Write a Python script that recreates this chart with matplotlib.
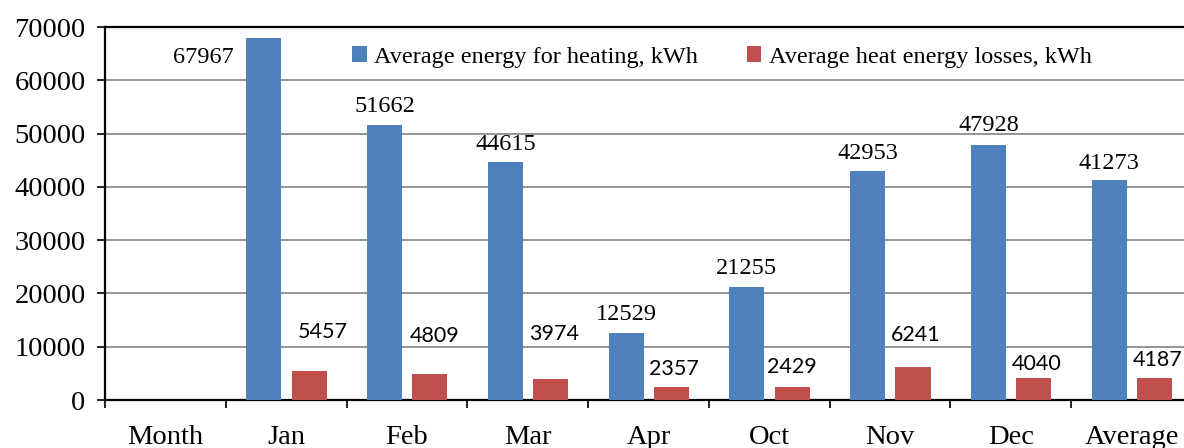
import numpy as np
import matplotlib
matplotlib.use('Agg')
import matplotlib.pyplot as plt

categories = ['Month', 'Jan', 'Feb', 'Mar', 'Apr', 'Oct', 'Nov', 'Dec', 'Average']
months = ['Jan', 'Feb', 'Mar', 'Apr', 'Oct', 'Nov', 'Dec', 'Average']
heating = [67967, 51662, 44615, 12529, 21255, 42953, 47928, 41273]
losses = [5457, 4809, 3974, 2357, 2429, 6241, 4040, 4187]

blue = '#4F81BD'
red = '#C0504D'
serif = 'Liberation Serif'

fig = plt.figure(figsize=(11.84, 4.48), dpi=100)
ax = fig.add_axes([105 / 1184, 48 / 448, 1087 / 1184, 373 / 448])

x = np.array([categories.index(m) for m in months])
w = 0.29
b1 = ax.bar(x - 0.185, heating, w, color=blue, label='Average energy for heating, kWh', zorder=3)
b2 = ax.bar(x + 0.19, losses, w, color=red, label='Average heat energy losses, kWh', zorder=3)

# label offsets in pixels (dx, dy of text centre from bar top)
blue_off = [(-60, -20), (0, 18), (0, 18), (0, 19), (0, 18), (0, 18), (0, 19), (0, 17)]
red_off = [(14, 39), (5, 38), (3, 45), (2, 18), (0, 20), (3, 32), (3, 14), (3, 18)]

for bar, v, (dx, dy) in zip(b1, heating, blue_off):
    ax.annotate(str(v), (bar.get_x() + bar.get_width() / 2, v), xytext=(dx, dy),
                textcoords='offset pixels', ha='center', va='center',
                fontsize=17.5, family=serif, zorder=5)
for bar, v, (dx, dy) in zip(b2, losses, red_off):
    ax.annotate(str(v), (bar.get_x() + bar.get_width() / 2, v), xytext=(dx, dy),
                textcoords='offset pixels', ha='center', va='center',
                fontsize=15.5, family='Lato', zorder=5)

ax.set_xlim(-0.5, 8.5)
ax.set_ylim(0, 70000)
ax.set_yticks(np.arange(0, 70001, 10000))
ax.set_xticks(np.arange(len(categories)))
ax.set_xticklabels(categories)
ax.set_xticks(np.arange(len(categories) + 1) - 0.5, minor=True)
ax.tick_params(axis='x', which='major', length=0, pad=18)
ax.tick_params(axis='x', which='minor', length=6, width=1.2, direction='out')
ax.tick_params(axis='y', length=6, width=1.2, direction='out', pad=8)
for lab in ax.get_xticklabels() + ax.get_yticklabels():
    lab.set_family(serif)
    lab.set_fontsize(20.5)

ax.yaxis.grid(True, color='#8c8c8c', linewidth=1.3, zorder=0)
ax.set_axisbelow(True)
for s in ['left', 'bottom', 'top']:
    ax.spines[s].set_linewidth(1.6)
    ax.spines[s].set_color('black')
ax.spines['right'].set_visible(False)

ax.legend(loc='center', bbox_to_anchor=(722 / 1184, 1 - 57 / 448), bbox_transform=fig.transFigure,
          ncol=2, frameon=False, prop={'family': serif, 'size': 17.5},
          handlelength=0.6, handleheight=0.6, handletextpad=0.3, columnspacing=2.0)

fig.savefig('out.png', dpi=100)
